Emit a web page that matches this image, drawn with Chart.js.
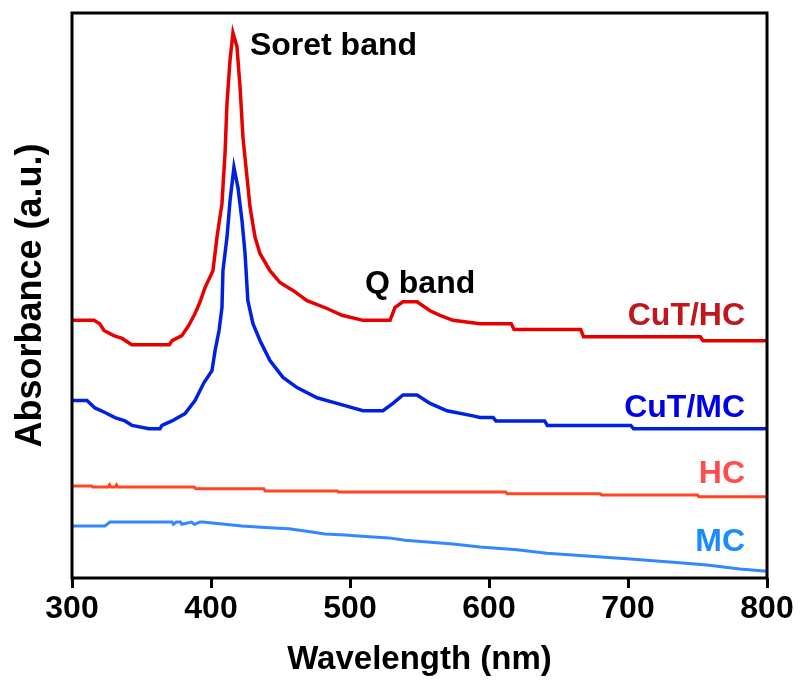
<!DOCTYPE html>
<html>
<head>
<meta charset="utf-8">
<script src="https://cdn.jsdelivr.net/npm/chart.js@4"></script>
<style>
  body { margin: 0; background: #fff; }
</style>
</head>
<body>
<canvas id="uvChart" width="801" height="682"></canvas>
<script>
// UV-vis spectra, absorbance in arbitrary (offset) units
const cuthcWave = [300, 315.8, 320, 323, 330, 336, 343, 370, 372, 379, 384, 388.5, 392, 395.7, 401.4, 404.3, 407.9, 410.1, 411.5, 413.7, 415.8, 418.7, 420.9, 423, 425.9, 428.1, 431.7, 435.3, 442.4, 449.6, 455.4, 459, 469.1, 483.5, 494.2, 509.4, 528.8, 532.4, 538.1, 548.2, 557.6, 564.7, 574.1, 593.5, 616, 618, 666, 668, 752, 754, 800];
const cuthcAbs = [45.6, 45.6, 45.0, 43.8, 42.9, 42.4, 41.3, 41.3, 42.0, 42.9, 44.7, 46.8, 48.8, 51.4, 54.4, 60.3, 66.3, 75.2, 84.0, 91.7, 96.5, 94.0, 86.9, 78.0, 70.9, 65.6, 60.3, 57.4, 54.4, 52.3, 51.4, 50.9, 49.1, 47.7, 46.5, 45.6, 45.6, 47.9, 48.9, 48.9, 47.3, 46.5, 45.6, 45.0, 45.0, 44.0, 44.0, 42.7, 42.7, 42.0, 42.0];

const cutmcWave = [300, 310.8, 316.5, 323.7, 330.9, 338.1, 343.2, 355.4, 363.3, 364.7, 371.9, 381.3, 388.5, 395, 400.7, 402.9, 405.8, 407.9, 408.6, 411.5, 413.7, 416.5, 419.4, 422.3, 424.5, 426.5, 430.2, 435.3, 442.4, 451.8, 461.9, 476.3, 490.6, 509.4, 523.7, 530.9, 538.1, 548.2, 557.6, 569.8, 588.5, 593.5, 603, 605, 640, 642, 702, 704, 800];
const cutmcAbs = [31.4, 31.4, 30.1, 29.3, 28.4, 27.8, 27.0, 26.4, 26.4, 27.0, 27.8, 29.1, 31.4, 34.6, 36.7, 40.2, 43.8, 47.9, 54.4, 60.3, 66.8, 72.7, 69.1, 63.3, 57.4, 49.1, 45.0, 42.0, 38.5, 35.5, 33.7, 31.9, 30.9, 29.6, 29.6, 30.9, 32.4, 32.4, 30.9, 29.6, 28.7, 28.4, 28.4, 27.8, 27.8, 27.0, 27.0, 26.4, 26.4];

const hcWave = [300, 314, 315, 326, 327, 328, 331, 332, 333, 388, 389, 438, 439, 491, 492, 612, 613, 680, 681, 750, 751, 800];
const hcAbs = [16.3, 16.3, 16.1, 16.1, 16.5, 16.1, 16.1, 16.5, 16.1, 16.1, 15.8, 15.8, 15.4, 15.4, 15.2, 15.2, 14.9, 14.9, 14.7, 14.7, 14.4, 14.4];

const mcWave = [300, 323.7, 327.3, 372, 373, 375, 378, 379, 386, 388, 392, 394, 422.3, 441.7, 456, 467.6, 482, 496.4, 513.7, 528, 539.6, 574.1, 593.5, 620.1, 641.7, 670.5, 699.3, 732.4, 756.8, 780.6, 800];
const mcAbs = [9.2, 9.2, 9.9, 9.9, 9.5, 9.9, 9.9, 9.5, 9.9, 9.5, 9.9, 9.9, 9.2, 8.9, 8.7, 8.3, 7.8, 7.6, 7.3, 7.1, 6.7, 6.0, 5.5, 5.0, 4.4, 3.9, 3.4, 2.8, 2.3, 1.6, 1.2];

const xTicks = [300, 400, 500, 600, 700, 800];

const FONT = "'Liberation Sans', Arial, sans-serif";

function toPoints(xs, ys) {
    return xs.map((x, i) => ({ x: x, y: ys[i] }));
}

// text labels placed in data coordinates
const notes = [
    { text: 'Soret band', x: 428, y: 94.2, color: '#000000', align: 'left' },
    { text: 'Q band', x: 510.8, y: 52.0, color: '#000000', align: 'left' },
    { text: 'CuT/HC', x: 784.2, y: 46.3, color: '#c0161c', align: 'right' },
    { text: 'CuT/MC', x: 784.2, y: 30.1, color: '#0000e6', align: 'right' },
    { text: 'HC', x: 784.2, y: 18.3, color: '#ff4d4d', align: 'right' },
    { text: 'MC', x: 784.2, y: 6.4, color: '#1a8cff', align: 'right' }
];

const framePlugin = {
    id: 'frame',
    afterDatasetsDraw(chart) {
        const { ctx, chartArea } = chart;
        ctx.save();
        ctx.strokeStyle = '#000';
        ctx.lineWidth = 3;
        ctx.strokeRect(chartArea.left, chartArea.top, chartArea.right - chartArea.left, chartArea.bottom - chartArea.top);

        ctx.font = 'bold 32px ' + FONT;
        ctx.textBaseline = 'middle';
        notes.forEach(n => {
            ctx.fillStyle = n.color;
            ctx.textAlign = n.align;
            ctx.fillText(n.text, chart.scales.x.getPixelForValue(n.x), chart.scales.y.getPixelForValue(n.y));
        });
        ctx.restore();
    }
};

function line(label, xs, ys, color, width) {
    return {
        label: label,
        data: toPoints(xs, ys),
        borderColor: color,
        borderWidth: width,
        pointRadius: 0,
        tension: 0,
        fill: false
    };
}

new Chart(document.getElementById('uvChart').getContext('2d'), {
    type: 'line',
    data: {
        datasets: [
            line('CuT/HC', cuthcWave, cuthcAbs, '#e60000', 3.5),
            line('CuT/MC', cutmcWave, cutmcAbs, '#0022e0', 3.5),
            line('HC', hcWave, hcAbs, '#ff4422', 3),
            line('MC', mcWave, mcAbs, '#3388ff', 3)
        ]
    },
    options: {
        responsive: false,
        animation: false,
        layout: { padding: { top: 13, right: 34, left: 0, bottom: 0 } },
        plugins: {
            legend: { display: false },
            tooltip: { enabled: false }
        },
        scales: {
            x: {
                type: 'linear',
                min: 300,
                max: 800,
                afterFit(scale) { scale.height = 104; },
                afterBuildTicks(scale) { scale.ticks = xTicks.map(v => ({ value: v })); },
                grid: {
                    drawOnChartArea: false,
                    drawTicks: true,
                    tickLength: 10,
                    tickWidth: 3,
                    tickColor: '#000'
                },
                border: { display: false },
                ticks: {
                    color: '#000',
                    padding: 2,
                    maxRotation: 0,
                    font: { family: FONT, size: 32, weight: 'bold' }
                },
                title: {
                    display: true,
                    text: 'Wavelength (nm)',
                    color: '#000',
                    padding: { top: 0, bottom: 2 },
                    font: { family: FONT, size: 33, weight: 'bold' }
                }
            },
            y: {
                min: 0,
                max: 100,
                afterFit(scale) { scale.width = 72; },
                grid: { display: false, drawTicks: false },
                border: { display: false },
                ticks: { display: false },
                title: {
                    display: true,
                    text: 'Absorbance (a.u.)',
                    color: '#000',
                    padding: { top: 9, bottom: 0 },
                    font: { family: FONT, size: 36, weight: 'bold' }
                }
            }
        }
    },
    plugins: [framePlugin]
});
</script>
</body>
</html>
